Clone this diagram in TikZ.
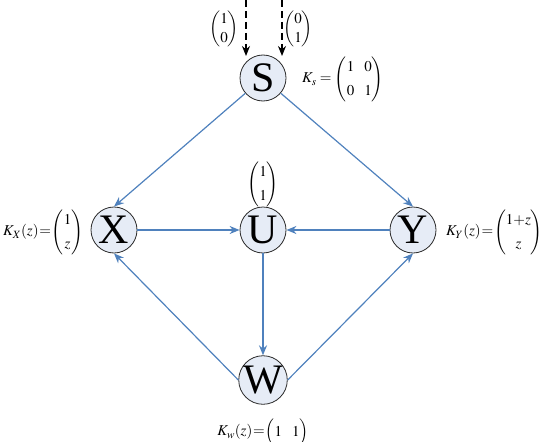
\documentclass[tikz,border=0pt]{standalone}
\usepackage{amsmath}
\usepackage{mathptmx}
\usepackage{fontspec}
\setmainfont{Liberation Serif}
\usetikzlibrary{arrows.meta}
\definecolor{edge}{HTML}{4F81BD}
\definecolor{nodefill}{HTML}{E6ECF6}
\definecolor{rim}{HTML}{2B2B2B}
\begin{document}
\begin{tikzpicture}[x=1pt,y=-1pt,
                    vx/.style={circle,draw=rim,fill=nodefill,line width=0.8pt,minimum size=46pt,inner sep=0pt,font=\fontsize{42}{46}\selectfont},
                    fl/.style={-{Stealth[length=10pt,width=8pt]},edge,line width=1.2pt},
                    inp/.style={-{Stealth[length=10pt,width=8pt]},black,line width=1.4pt,dash pattern=on 7pt off 4pt},
                    lab/.style={font=\fontsize{15}{18}\selectfont,inner sep=0pt},
                    vec/.style={lab,execute at begin node={\def\arraystretch{1.05}}},
                    tight/.style={lab,execute at begin node={\thickmuskip=1mu\medmuskip=0mu}}]
  \useasboundingbox (0,0) rectangle (545,441);
  \renewcommand{\arraystretch}{1.3}
  \node[vx] (S) at (263,78) {S};
  \node[vx] (X) at (114,230) {X};
  \node[vx] (U) at (263,230) {U};
  \node[vx] (Y) at (413,230) {Y};
  \node[vx] (W) at (263,380) {W};
  % inputs to S
  \coordinate (in1) at (246,0);
  \coordinate (in2) at (282,0);
  \coordinate (tip1) at (246,56);
  \coordinate (tip2) at (282,56);
  \draw[inp] (in1) -- (tip1);
  \draw[inp] (in2) -- (tip2);
  \node[vec] (v1) at (224,29) {$\begin{pmatrix}1\\0\end{pmatrix}$};
  \node[vec] (v2) at (298,29) {$\begin{pmatrix}0\\1\end{pmatrix}$};
  \node[lab] (vu) at (263,184) {$\begin{pmatrix}1\\1\end{pmatrix}$};
  % edges
  \draw[fl] (S) -- (X.north);
  \draw[fl] (S) -- (Y.north);
  \draw[fl] (X) -- (U);
  \draw[fl] (Y) -- (U);
  \draw[fl] (U) -- (W);
  \draw[fl] (W.west) -- (X.south);
  \draw[fl] (W.east) -- (Y.south);
  % encoders
  \node[lab,anchor=west] (ks) at (302,79) {$K_s=\begin{pmatrix}1&0\\0&1\end{pmatrix}$};
  \node[tight,anchor=west] (kx) at (3,232) {$K_X(z)=\begin{pmatrix}1\\z\end{pmatrix}$};
  \node[tight,anchor=east] (ky) at (543,232) {$K_Y(z)=\begin{pmatrix}1+z\\z\end{pmatrix}$};
  \node[tight] (kw) at (263,432) {$K_w(z)=\begin{pmatrix}1&1\end{pmatrix}$};
\end{tikzpicture}
\end{document}
